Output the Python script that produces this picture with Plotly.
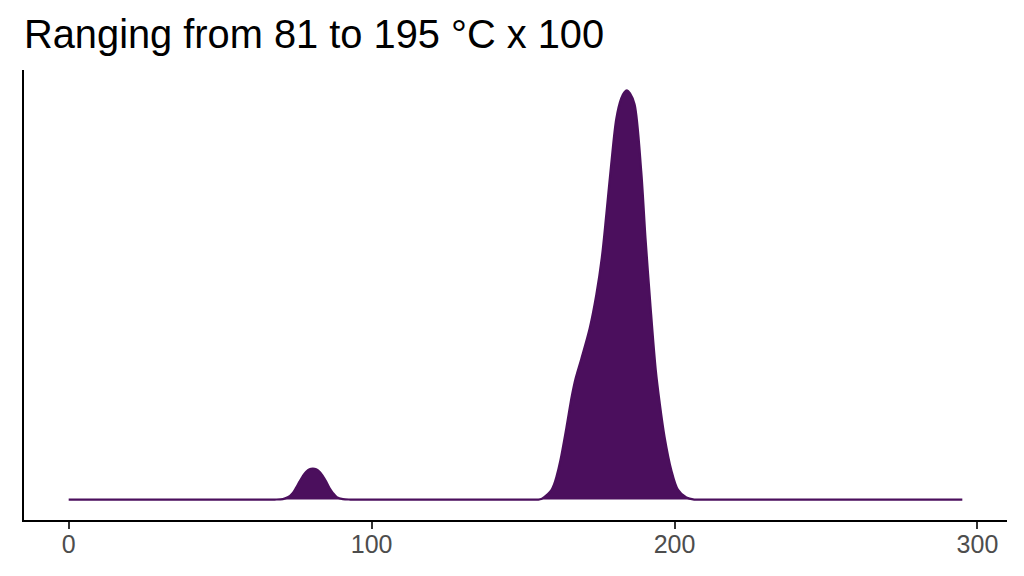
import plotly.graph_objects as go

# Density curve (x in °C x 100 units, y in relative density)
x_vals = [0, 60, 68, 70.7, 72.5, 74, 75, 76.2, 77.3, 78.4, 79.5, 80.6, 81.7, 82.8, 83.9,
          85, 86.1, 87.2, 88.5, 90.5, 93, 120, 150, 155, 156, 157.1, 158.2, 159.3,
          160.2, 161.0, 162.3, 164.3, 166.1, 167.3, 169.2, 172.0, 174.2, 176.0, 177.5,
          179.1, 180.8, 182.4, 183.4, 184.3, 185.3, 186.8, 189.0, 190.4, 192.0, 193.8,
          195.1, 196.7, 198.9, 201.1, 203.9, 206.5, 210, 250, 295]
y_vals = [0, 0, 0, 0.5, 2.5, 6.7, 11.5, 18, 23.5, 28, 30.5, 31, 30.5, 28, 23.5,
          18, 11.5, 6.7, 2.5, 0.5, 0, 0, 0, 0, 0.5, 2.7, 5.5, 9.3,
          15, 22.7, 39, 72, 104, 121, 141, 172, 206, 243, 287,
          337, 383, 403, 409, 411, 408, 397, 330, 263, 197, 130,
          97, 63, 30, 10, 2, 0, 0, 0, 0]
y_vals = [v / 10000 for v in y_vals]

title_text = "Ranging from 81 to 195 °C x 100"
x_ticks = [0, 100, 200, 300]

color = "#4B0F5D"
ymax = max(y_vals)

fig = go.Figure()
fig.add_trace(go.Scatter(
    x=x_vals, y=y_vals, mode="lines",
    line=dict(color=color, width=2.2, shape="spline", smoothing=0.9),
    fill="tozeroy", fillcolor=color, hoverinfo="skip",
))

fig.update_layout(
    width=1024, height=576,
    paper_bgcolor="white", plot_bgcolor="white",
    margin=dict(l=16, r=25, t=62, b=64),
    showlegend=False,
    font=dict(family="Liberation Sans, Arial, sans-serif"),
    title=dict(text=title_text, font=dict(size=39.8, color="black"),
               x=16 / 1024, xanchor="left", xref="container",
               y=1 - 26 / 576, yanchor="middle", yref="container"),
    xaxis=dict(range=[-14.75, 309.75], showgrid=False, zeroline=False,
               showline=True, linecolor="black", linewidth=2,
               ticks="outside", ticklen=7, tickwidth=2, tickcolor="#333333",
               ticklabelstandoff=-6,
               tickvals=x_ticks, tickfont=dict(size=25, color="#4D4D4D")),
    yaxis=dict(range=[-0.05 * ymax, 1.05 * ymax], showgrid=False, zeroline=False,
               showline=True, linecolor="black", linewidth=2,
               showticklabels=False, ticks=""),
)

fig.write_html("out.html")
